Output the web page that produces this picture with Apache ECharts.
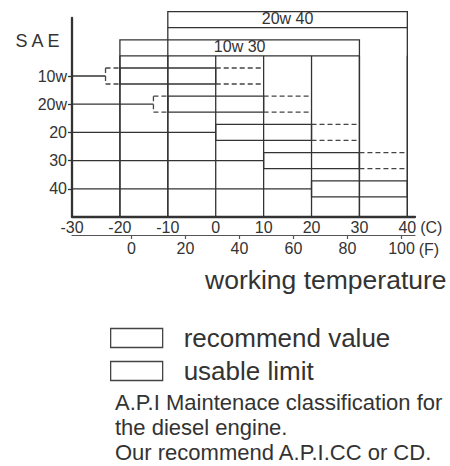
<!DOCTYPE html>
<html><head><meta charset="utf-8">
<script src="https://cdn.jsdelivr.net/npm/echarts@6/dist/echarts.min.js"></script>
<style>html,body{margin:0;padding:0;background:#fff}#c{width:450px;height:466px}</style>
</head><body><div id="c"></div><script>
// ---- data ----
const singleGrades = ['10w', '20w', '20', '30', '40'];
const singleRecMin = [-20, -10, 0, 10, 20];
const singleRecMax = [0, 10, 20, 30, 40];
const singleUseMin = [-23, -13, 0, 10, 20];
const singleUseMax = [10, 20, 30, 40, 40];
const multiGrades = ['10w 30', '20w 40'];
const multiMin = [-20, -10];
const multiMax = [30, 40];
const celsiusTicks = [-30, -20, -10, 0, 10, 20, 30, 40];
const fahrenheitTicks = [0, 20, 40, 60, 80, 100];
const legendNames = ['recommend value', 'usable limit'];
const axisTitle = 'working temperature';
const gradeTitle = 'S A E';
const noteLines = ['A.P.I Maintenace classification for', 'the diesel engine.', 'Our recommend A.P.I.CC or CD.'];

// ---- layout / style ----
const FONT = '"Liberation Sans", Arial, sans-serif';
const INK = '#333';
const HALF = 8;
const nS = singleGrades.length;
const singleLevel = i => nS - i;
const multiLevel = j => nS + 1 + j;
const levels = singleGrades.map((g, i) => singleLevel(i));
const cMin = celsiusTicks[0];

const solid = { stroke: INK, lineWidth: 1.3 };
const dashed = { stroke: '#444', lineWidth: 1.3, lineDash: [5, 3] };

function renderBox(params, api) {
  const lv = api.value(2);
  const a = api.coord([api.value(0), lv]);
  const b = api.coord([api.value(1), lv]);
  return { type: 'rect', shape: { x: a[0], y: a[1] - HALF, width: b[0] - a[0], height: 2 * HALF },
    style: Object.assign({ fill: 'none' }, solid) };
}
function renderMulti(params, api) {
  const lv = api.value(2);
  const a = api.coord([api.value(0), lv]);
  const b = api.coord([api.value(1), lv]);
  const base = api.coord([api.value(0), 0])[1];
  return { type: 'group', children: [
    { type: 'rect', shape: { x: a[0], y: a[1] - HALF, width: b[0] - a[0], height: 2 * HALF }, style: Object.assign({ fill: 'none' }, solid) },
    { type: 'line', shape: { x1: a[0], y1: a[1] + HALF, x2: a[0], y2: base }, style: solid },
    { type: 'line', shape: { x1: b[0], y1: a[1] + HALF, x2: b[0], y2: base }, style: solid },
    { type: 'text', style: { text: multiGrades[params.dataIndex], x: (a[0] + b[0]) / 2, y: a[1] - 1, align: 'center', verticalAlign: 'middle', fontSize: 16, fontFamily: FONT, fill: INK } }
  ] };
}
function renderUsable(params, api) {
  const lv = api.value(4);
  const uMin = api.coord([api.value(0), lv]);
  const rMin = api.coord([api.value(1), lv]);
  const rMax = api.coord([api.value(2), lv]);
  const uMax = api.coord([api.value(3), lv]);
  const y = uMin[1], t = y - HALF, bt = y + HALF;
  const ch = [];
  if (uMin[0] < rMin[0] - 0.5) {
    ch.push({ type: 'line', shape: { x1: uMin[0], y1: t, x2: rMin[0], y2: t }, style: dashed });
    ch.push({ type: 'line', shape: { x1: uMin[0], y1: bt, x2: rMin[0], y2: bt }, style: dashed });
    ch.push({ type: 'line', shape: { x1: uMin[0], y1: t, x2: uMin[0], y2: bt }, style: dashed });
  }
  if (uMax[0] > rMax[0] + 0.5) {
    ch.push({ type: 'line', shape: { x1: rMax[0], y1: t, x2: uMax[0], y2: t }, style: dashed });
    ch.push({ type: 'line', shape: { x1: rMax[0], y1: bt, x2: uMax[0], y2: bt }, style: dashed });
  }
  return { type: 'group', children: ch };
}
function renderConnector(params, api) {
  const lv = api.value(2);
  const a = api.coord([api.value(0), lv]);
  const b = api.coord([api.value(1), lv]);
  return { type: 'line', shape: { x1: a[0], y1: a[1], x2: b[0], y2: b[1] }, style: solid };
}
function renderGridLine(params, api) {
  const x = api.value(0);
  const base = api.coord([x, 0]);
  const top = api.coord([x, multiLevel(0)])[1] + HALF;
  return { type: 'line', shape: { x1: base[0], y1: base[1], x2: base[0], y2: top }, style: solid };
}

const chart = echarts.init(document.getElementById('c'), null, { renderer: 'svg' });
const labelStyle = { fontSize: 16, fontFamily: FONT, color: INK };
chart.setOption({
  animation: false,
  backgroundColor: '#fff',
  textStyle: { fontFamily: FONT },
  grid: { left: 72, right: 35, top: 18, bottom: 249, outerBoundsMode: 'none', containLabel: false },
  xAxis: [
    { type: 'value', min: cMin, max: 41.6, position: 'bottom',
      axisLine: { show: true, onZero: false, lineStyle: { color: INK, width: 2.3 } },
      axisTick: { show: false }, splitLine: { show: false },
      axisLabel: Object.assign({ customValues: celsiusTicks, margin: 2 }, labelStyle),
      name: '(C)', nameLocation: 'end', nameGap: 3,
      nameTextStyle: Object.assign({ verticalAlign: 'top', align: 'left', padding: [2, 0, 0, 0] }, labelStyle) },
    { type: 'value', min: -22, max: 105, position: 'bottom', offset: 18,
      axisLine: { show: true, onZero: false, lineStyle: { color: '#555', width: 1.2 } },
      axisTick: { show: true, customValues: fahrenheitTicks, length: 4, lineStyle: { color: '#555', width: 1.2 } },
      splitLine: { show: false },
      axisLabel: Object.assign({ customValues: fahrenheitTicks, margin: 5 }, labelStyle),
      name: '(F)', nameLocation: 'end', nameGap: 3,
      nameTextStyle: Object.assign({ verticalAlign: 'top', align: 'left', padding: [6, 0, 0, 0] }, labelStyle) }
  ],
  yAxis: { type: 'value', min: 0, max: 7.057, position: 'left',
    axisLine: { show: true, onZero: false, lineStyle: { color: INK, width: 2.3 } },
    axisTick: { show: true, customValues: levels, length: 4, lineStyle: { color: INK, width: 1.3 } },
    axisLabel: Object.assign({ customValues: levels, margin: 5, formatter: v => singleGrades[nS - v] }, labelStyle),
    splitLine: { show: false } },
  legend: { orient: 'vertical', left: 110, top: 325, padding: 0, itemWidth: 52, itemHeight: 19, itemGap: 7,
    selectedMode: false,
    data: legendNames.map(n => ({ name: n, icon: 'rect', itemStyle: { color: '#fff', borderColor: '#444', borderWidth: 1.3 } })),
    textStyle: { fontSize: 26, fontFamily: FONT, color: INK, lineHeight: 26, padding: [0, 0, 0, 16] } },
  graphic: [
    { type: 'text', x: 37.5, y: 41, silent: true, style: { text: gradeTitle, align: 'center', verticalAlign: 'middle', fontSize: 18, fontFamily: FONT, fill: INK } },
    { type: 'text', x: 205, y: 280, silent: true, style: { text: axisTitle, verticalAlign: 'middle', fontSize: 26.5, fontFamily: FONT, fill: INK } },
    { type: 'text', x: 115, y: 427.5, silent: true, style: { text: noteLines.join('\n'), verticalAlign: 'middle', fontSize: 22, lineHeight: 25.4, fontFamily: FONT, fill: INK } }
  ],
  series: [
    { type: 'custom', silent: true, renderItem: renderGridLine, encode: { x: 0 },
      data: celsiusTicks.slice(1).map(t => [t]) },
    { type: 'custom', silent: true, renderItem: renderConnector, encode: { x: [0, 1], y: 2 },
      data: singleGrades.map((g, i) => [cMin, singleUseMin[i], singleLevel(i)]) },
    { type: 'custom', name: legendNames[0], silent: true, renderItem: renderBox, encode: { x: [0, 1], y: 2 },
      itemStyle: { color: '#fff', borderColor: '#444' },
      data: singleGrades.map((g, i) => [singleRecMin[i], singleRecMax[i], singleLevel(i)]) },
    { type: 'custom', name: legendNames[0], silent: true, renderItem: renderMulti, encode: { x: [0, 1], y: 2 },
      itemStyle: { color: '#fff', borderColor: '#444' },
      data: multiGrades.map((g, j) => [multiMin[j], multiMax[j], multiLevel(j)]) },
    { type: 'custom', name: legendNames[1], silent: true, renderItem: renderUsable, encode: { x: [0, 1, 2, 3], y: 4 },
      itemStyle: { color: '#fff', borderColor: '#444' },
      data: singleGrades.map((g, i) => [singleUseMin[i], singleRecMin[i], singleRecMax[i], singleUseMax[i], singleLevel(i)]) }
  ]
});
</script></body></html>
